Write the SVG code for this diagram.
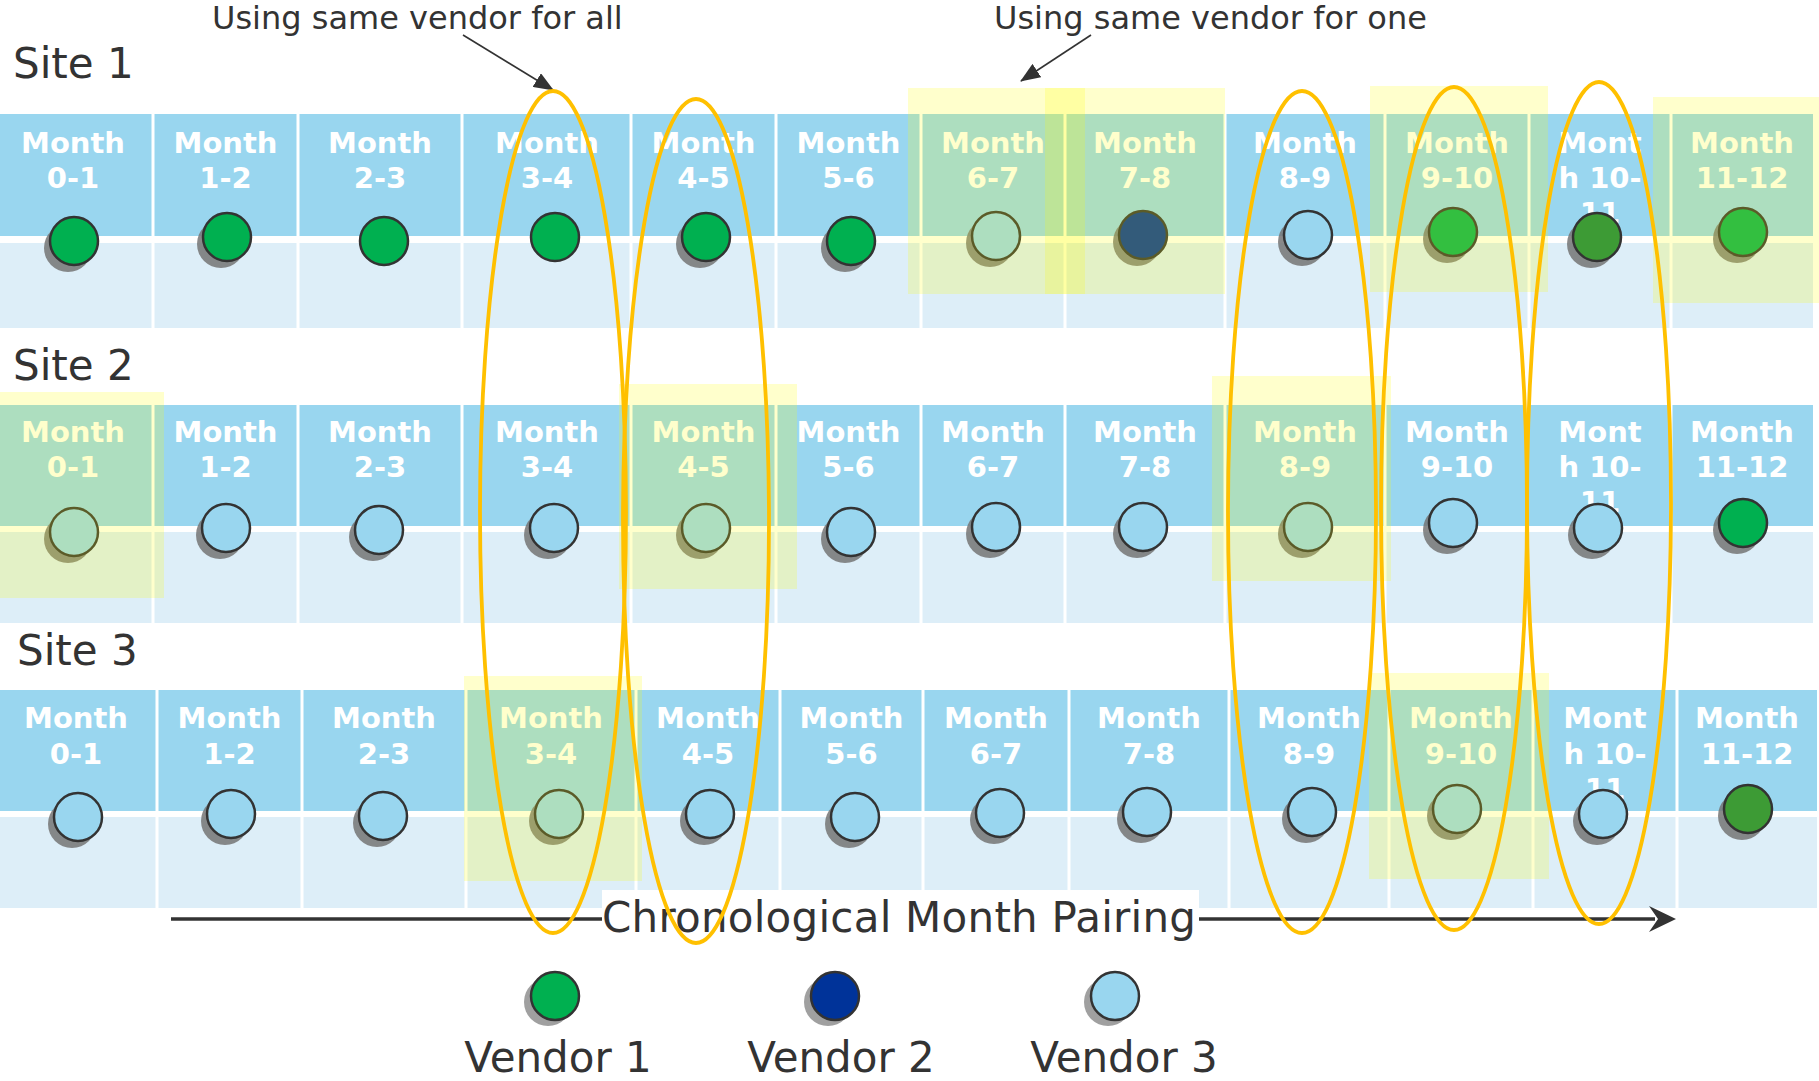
<svg xmlns="http://www.w3.org/2000/svg" width="1819" height="1081" viewBox="0 0 1819 1081">
<style>
.band{fill:#99d6ef}
.light{fill:#ddeef8}
.sep{stroke:#fff;stroke-width:3}
.lbl{font-family:"DejaVu Sans",Verdana,sans-serif;font-weight:bold;font-size:29px;fill:#fff;text-anchor:middle}
.txt{font-family:"DejaVu Sans",Verdana,sans-serif;fill:#333}
.c{stroke:#333;stroke-width:2.5}
.v1{fill:#00b050}.v2{fill:#003399}.v3{fill:#99d6ef}.v1d{fill:#3d9b35}
.sh{fill:#747474;opacity:.85}
.lsh{fill:#a0a0a0}
.hl{fill:#ffff00;opacity:.2}
.oval{fill:none;stroke:#ffc000;stroke-width:3.8}
.ann{stroke:#333;stroke-width:1.6;fill:none}
</style>
<defs>
<marker id="ah" markerUnits="userSpaceOnUse" markerWidth="20" markerHeight="16" viewBox="0 0 20 16" refX="19" refY="8" orient="auto">
<path d="M0,0 L20,8 L0,16 Z" fill="#333"/>
</marker>
</defs>
<rect width="1819" height="1081" fill="#fff"/>

<!-- Row backgrounds -->
<g id="site1-row">
<rect class="band" x="0" y="114" width="1813" height="122"/>
<rect class="light" x="0" y="243" width="1813" height="85"/>
<path class="sep" d="M153,114V328M298,114V328M462,114V328M631,114V328M776,114V328M921,114V328M1065,114V328M1225,114V328M1385,114V328M1529,114V328M1671,114V328"/>
</g>
<g id="site2-row">
<rect class="band" x="0" y="405" width="1813" height="121"/>
<rect class="light" x="0" y="532" width="1813" height="91"/>
<path class="sep" d="M153,405V623M298,405V623M462,405V623M631,405V623M776,405V623M921,405V623M1065,405V623M1225,405V623M1385,405V623M1527,405V623M1671,405V623"/>
</g>
<g id="site3-row">
<rect class="band" x="0" y="690" width="1817" height="121"/>
<rect class="light" x="0" y="817" width="1817" height="91"/>
<path class="sep" d="M157,690V908M302,690V908M466,690V908M636,690V908M780,690V908M923,690V908M1069,690V908M1229,690V908M1389,690V908M1533,690V908M1677,690V908"/>
</g>

<text class="txt" x="13" y="78" font-size="42">Site 1</text>
<text class="txt" x="13" y="380" font-size="42">Site 2</text>
<text class="txt" x="17" y="665" font-size="42">Site 3</text>

<!-- Site 1 cells -->
<g id="s1-0-1"><text class="lbl"><tspan x="73" y="153">Month</tspan><tspan x="73" y="188">0-1</tspan></text><ellipse class="sh" cx="68" cy="248" rx="24" ry="24"/><ellipse class="c v1" cx="74" cy="241" rx="24" ry="24"/></g>
<g id="s1-1-2"><text class="lbl"><tspan x="225.5" y="153">Month</tspan><tspan x="225.5" y="188">1-2</tspan></text><ellipse class="sh" cx="221" cy="244" rx="24" ry="24"/><ellipse class="c v1" cx="227" cy="237" rx="24" ry="24"/></g>
<g id="s1-2-3"><text class="lbl"><tspan x="380" y="153">Month</tspan><tspan x="380" y="188">2-3</tspan></text><ellipse class="c v1" cx="384" cy="241" rx="24" ry="24"/></g>
<g id="s1-3-4"><text class="lbl"><tspan x="547" y="153">Month</tspan><tspan x="547" y="188">3-4</tspan></text><ellipse class="c v1" cx="555" cy="237" rx="24" ry="24"/></g>
<g id="s1-4-5"><text class="lbl"><tspan x="703.5" y="153">Month</tspan><tspan x="703.5" y="188">4-5</tspan></text><ellipse class="sh" cx="700" cy="244" rx="24" ry="24"/><ellipse class="c v1" cx="706" cy="237" rx="24" ry="24"/></g>
<g id="s1-5-6"><text class="lbl"><tspan x="848.5" y="153">Month</tspan><tspan x="848.5" y="188">5-6</tspan></text><ellipse class="sh" cx="845" cy="248" rx="24" ry="24"/><ellipse class="c v1" cx="851" cy="241" rx="24" ry="24"/></g>
<g id="s1-6-7"><text class="lbl"><tspan x="993" y="153">Month</tspan><tspan x="993" y="188">6-7</tspan></text><ellipse class="sh" cx="990" cy="243" rx="24" ry="24"/><ellipse class="c v3" cx="996" cy="236" rx="24" ry="24"/></g>
<g id="s1-7-8"><text class="lbl"><tspan x="1145" y="153">Month</tspan><tspan x="1145" y="188">7-8</tspan></text><ellipse class="sh" cx="1137" cy="242" rx="24" ry="24"/><ellipse class="c v2" cx="1143" cy="235" rx="24" ry="24"/></g>
<g id="s1-8-9"><text class="lbl"><tspan x="1305" y="153">Month</tspan><tspan x="1305" y="188">8-9</tspan></text><ellipse class="sh" cx="1302" cy="242" rx="24" ry="24"/><ellipse class="c v3" cx="1308" cy="235" rx="24" ry="24"/></g>
<g id="s1-9-10"><text class="lbl"><tspan x="1457" y="153">Month</tspan><tspan x="1457" y="188">9-10</tspan></text><ellipse class="sh" cx="1447" cy="239" rx="24" ry="24"/><ellipse class="c v1" cx="1453" cy="232" rx="24" ry="24"/></g>
<g id="s1-10-11"><text class="lbl"><tspan x="1600" y="153">Mont</tspan><tspan x="1600" y="188">h 10-</tspan><tspan x="1600" y="223">11</tspan></text><ellipse class="sh" cx="1591" cy="244" rx="24" ry="24"/><ellipse class="c v1d" cx="1597" cy="237" rx="24" ry="24"/></g>
<g id="s1-11-12"><text class="lbl"><tspan x="1742" y="153">Month</tspan><tspan x="1742" y="188">11-12</tspan></text><ellipse class="sh" cx="1737" cy="239" rx="24" ry="24"/><ellipse class="c v1" cx="1743" cy="232" rx="24" ry="24"/></g>

<!-- Site 2 cells -->
<g id="s2-0-1"><text class="lbl"><tspan x="73" y="442">Month</tspan><tspan x="73" y="477">0-1</tspan></text><ellipse class="sh" cx="68" cy="539" rx="24" ry="24"/><ellipse class="c v3" cx="74" cy="532" rx="24" ry="24"/></g>
<g id="s2-1-2"><text class="lbl"><tspan x="225.5" y="442">Month</tspan><tspan x="225.5" y="477">1-2</tspan></text><ellipse class="sh" cx="220" cy="535" rx="24" ry="24"/><ellipse class="c v3" cx="226" cy="528" rx="24" ry="24"/></g>
<g id="s2-2-3"><text class="lbl"><tspan x="380" y="442">Month</tspan><tspan x="380" y="477">2-3</tspan></text><ellipse class="sh" cx="373" cy="537" rx="24" ry="24"/><ellipse class="c v3" cx="379" cy="530" rx="24" ry="24"/></g>
<g id="s2-3-4"><text class="lbl"><tspan x="547" y="442">Month</tspan><tspan x="547" y="477">3-4</tspan></text><ellipse class="sh" cx="548" cy="535" rx="24" ry="24"/><ellipse class="c v3" cx="554" cy="528" rx="24" ry="24"/></g>
<g id="s2-4-5"><text class="lbl"><tspan x="703.5" y="442">Month</tspan><tspan x="703.5" y="477">4-5</tspan></text><ellipse class="sh" cx="700" cy="535" rx="24" ry="24"/><ellipse class="c v3" cx="706" cy="528" rx="24" ry="24"/></g>
<g id="s2-5-6"><text class="lbl"><tspan x="848.5" y="442">Month</tspan><tspan x="848.5" y="477">5-6</tspan></text><ellipse class="sh" cx="845" cy="539" rx="24" ry="24"/><ellipse class="c v3" cx="851" cy="532" rx="24" ry="24"/></g>
<g id="s2-6-7"><text class="lbl"><tspan x="993" y="442">Month</tspan><tspan x="993" y="477">6-7</tspan></text><ellipse class="sh" cx="990" cy="534" rx="24" ry="24"/><ellipse class="c v3" cx="996" cy="527" rx="24" ry="24"/></g>
<g id="s2-7-8"><text class="lbl"><tspan x="1145" y="442">Month</tspan><tspan x="1145" y="477">7-8</tspan></text><ellipse class="sh" cx="1137" cy="534" rx="24" ry="24"/><ellipse class="c v3" cx="1143" cy="527" rx="24" ry="24"/></g>
<g id="s2-8-9"><text class="lbl"><tspan x="1305" y="442">Month</tspan><tspan x="1305" y="477">8-9</tspan></text><ellipse class="sh" cx="1302" cy="534" rx="24" ry="24"/><ellipse class="c v3" cx="1308" cy="527" rx="24" ry="24"/></g>
<g id="s2-9-10"><text class="lbl"><tspan x="1457" y="442">Month</tspan><tspan x="1457" y="477">9-10</tspan></text><ellipse class="sh" cx="1447" cy="530" rx="24" ry="24"/><ellipse class="c v3" cx="1453" cy="523" rx="24" ry="24"/></g>
<g id="s2-10-11"><text class="lbl"><tspan x="1600" y="442">Mont</tspan><tspan x="1600" y="477">h 10-</tspan><tspan x="1600" y="512">11</tspan></text><ellipse class="sh" cx="1592" cy="535" rx="24" ry="24"/><ellipse class="c v3" cx="1598" cy="528" rx="24" ry="24"/></g>
<g id="s2-11-12"><text class="lbl"><tspan x="1742" y="442">Month</tspan><tspan x="1742" y="477">11-12</tspan></text><ellipse class="sh" cx="1737" cy="530" rx="24" ry="24"/><ellipse class="c v1" cx="1743" cy="523" rx="24" ry="24"/></g>

<!-- Site 3 cells -->
<g id="s3-0-1"><text class="lbl"><tspan x="76" y="728">Month</tspan><tspan x="76" y="764">0-1</tspan></text><ellipse class="sh" cx="72" cy="824" rx="24" ry="24"/><ellipse class="c v3" cx="78" cy="817" rx="24" ry="24"/></g>
<g id="s3-1-2"><text class="lbl"><tspan x="229.5" y="728">Month</tspan><tspan x="229.5" y="764">1-2</tspan></text><ellipse class="sh" cx="225" cy="821" rx="24" ry="24"/><ellipse class="c v3" cx="231" cy="814" rx="24" ry="24"/></g>
<g id="s3-2-3"><text class="lbl"><tspan x="384" y="728">Month</tspan><tspan x="384" y="764">2-3</tspan></text><ellipse class="sh" cx="377" cy="823" rx="24" ry="24"/><ellipse class="c v3" cx="383" cy="816" rx="24" ry="24"/></g>
<g id="s3-3-4"><text class="lbl"><tspan x="551" y="728">Month</tspan><tspan x="551" y="764">3-4</tspan></text><ellipse class="sh" cx="553" cy="821" rx="24" ry="24"/><ellipse class="c v3" cx="559" cy="814" rx="24" ry="24"/></g>
<g id="s3-4-5"><text class="lbl"><tspan x="708" y="728">Month</tspan><tspan x="708" y="764">4-5</tspan></text><ellipse class="sh" cx="704" cy="821" rx="24" ry="24"/><ellipse class="c v3" cx="710" cy="814" rx="24" ry="24"/></g>
<g id="s3-5-6"><text class="lbl"><tspan x="851.5" y="728">Month</tspan><tspan x="851.5" y="764">5-6</tspan></text><ellipse class="sh" cx="849" cy="824" rx="24" ry="24"/><ellipse class="c v3" cx="855" cy="817" rx="24" ry="24"/></g>
<g id="s3-6-7"><text class="lbl"><tspan x="996" y="728">Month</tspan><tspan x="996" y="764">6-7</tspan></text><ellipse class="sh" cx="994" cy="820" rx="24" ry="24"/><ellipse class="c v3" cx="1000" cy="813" rx="24" ry="24"/></g>
<g id="s3-7-8"><text class="lbl"><tspan x="1149" y="728">Month</tspan><tspan x="1149" y="764">7-8</tspan></text><ellipse class="sh" cx="1141" cy="819" rx="24" ry="24"/><ellipse class="c v3" cx="1147" cy="812" rx="24" ry="24"/></g>
<g id="s3-8-9"><text class="lbl"><tspan x="1309" y="728">Month</tspan><tspan x="1309" y="764">8-9</tspan></text><ellipse class="sh" cx="1306" cy="819" rx="24" ry="24"/><ellipse class="c v3" cx="1312" cy="812" rx="24" ry="24"/></g>
<g id="s3-9-10"><text class="lbl"><tspan x="1461" y="728">Month</tspan><tspan x="1461" y="764">9-10</tspan></text><ellipse class="sh" cx="1451" cy="816" rx="24" ry="24"/><ellipse class="c v3" cx="1457" cy="809" rx="24" ry="24"/></g>
<g id="s3-10-11"><text class="lbl"><tspan x="1605" y="728">Mont</tspan><tspan x="1605" y="764">h 10-</tspan><tspan x="1605" y="799">11</tspan></text><ellipse class="sh" cx="1597" cy="821" rx="24" ry="24"/><ellipse class="c v3" cx="1603" cy="814" rx="24" ry="24"/></g>
<g id="s3-11-12"><text class="lbl"><tspan x="1747" y="728">Month</tspan><tspan x="1747" y="764">11-12</tspan></text><ellipse class="sh" cx="1742" cy="816" rx="24" ry="24"/><ellipse class="c v1d" cx="1748" cy="809" rx="24" ry="24"/></g>

<!-- Yellow highlights -->
<g id="highlights">
<rect class="hl" x="908" y="88" width="177" height="206"/>
<rect class="hl" x="1045" y="88" width="180" height="206"/>
<rect class="hl" x="1370" y="86" width="178" height="206"/>
<rect class="hl" x="1653" y="97" width="166" height="206"/>
<rect class="hl" x="0" y="392" width="164" height="206"/>
<rect class="hl" x="619" y="384" width="178" height="205"/>
<rect class="hl" x="1212" y="376" width="179" height="205"/>
<rect class="hl" x="464" y="676" width="178" height="205"/>
<rect class="hl" x="1369" y="673" width="180" height="206"/>
</g>

<!-- Connectors -->
<g id="connectors">
<line x1="171" y1="919" x2="1655" y2="919" stroke="#333" stroke-width="3.5"/>
<path d="M1676,919 L1649,906 L1658,919 L1649,932 Z" fill="#333"/>
<line class="ann" x1="463" y1="35" x2="553" y2="90" marker-end="url(#ah)"/>
<line class="ann" x1="1091" y1="35" x2="1021" y2="81" marker-end="url(#ah)"/>
</g>

<g id="axis-label">
<rect x="602" y="890" width="597" height="52" fill="#fff"/>
<text class="txt" x="602" y="932" font-size="42" textLength="594">Chronological Month Pairing</text>
</g>

<!-- Orange grouping ovals -->
<g id="ovals">
<ellipse class="oval" cx="553" cy="512" rx="73" ry="421"/>
<ellipse class="oval" cx="696" cy="521" rx="73" ry="422"/>
<ellipse class="oval" cx="1302" cy="512" rx="74" ry="421"/>
<ellipse class="oval" cx="1454" cy="508.5" rx="73" ry="421.5"/>
<ellipse class="oval" cx="1599" cy="503" rx="72" ry="421"/>
</g>

<text class="txt" x="212" y="29" font-size="32">Using same vendor for all</text>
<text class="txt" x="994" y="29" font-size="32">Using same vendor for one</text>

<!-- Legend -->
<g id="legend-v1"><ellipse class="lsh" cx="548" cy="1002" rx="24" ry="24"/><ellipse class="c v1" cx="555" cy="996" rx="24" ry="24"/><text class="txt" x="558" y="1072" font-size="42" text-anchor="middle">Vendor 1</text></g>
<g id="legend-v2"><ellipse class="lsh" cx="828" cy="1002" rx="24" ry="24"/><ellipse class="c v2" cx="835" cy="996" rx="24" ry="24"/><text class="txt" x="841" y="1072" font-size="42" text-anchor="middle">Vendor 2</text></g>
<g id="legend-v3"><ellipse class="lsh" cx="1108" cy="1002" rx="24" ry="24"/><ellipse class="c v3" cx="1115" cy="996" rx="24" ry="24"/><text class="txt" x="1124" y="1072" font-size="42" text-anchor="middle">Vendor 3</text></g>
</svg>
